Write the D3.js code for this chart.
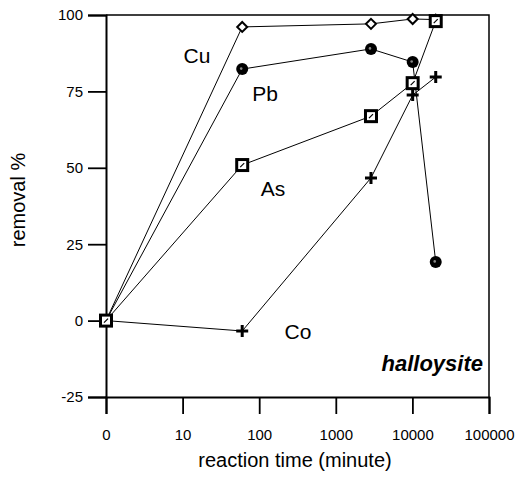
<!DOCTYPE html>
<html>
<head>
<meta charset="utf-8">
<script src="https://cdn.jsdelivr.net/npm/d3@7"></script>
<style>
  body { margin: 0; background: #fff; }
  svg { display: block; font-family: "Liberation Sans", Arial, sans-serif; }
</style>
</head>
<body>
<div id="chart"></div>
<script>
// reaction time in minutes (0 is drawn at the "0" position = 1 on the log axis)
const times = [0, 60, 2880, 10080, 20160];
const cuVals = [0, 96.1, 97.1, 98.7, 98.5];
const pbVals = [0, 82.3, 88.9, 84.6, 19.2];
const asVals = [0, 50.9, 66.9, 77.7, 98.0];
const coVals = [0, -3.4, 46.7, 73.8, 79.7];

const xTicks = [1, 10, 100, 1000, 10000, 100000];
const xTickLabels = ["0", "10", "100", "1000", "10000", "100000"];
const yTicks = [-25, 0, 25, 50, 75, 100];

const width = 521, height = 477;
const margins = {top: 15, right: 32, bottom: 80, left: 106};
const font = "Liberation Sans, Arial, sans-serif";

const svg = d3.select("#chart").append("svg")
  .attr("width", width)
  .attr("height", height);

const xScale = d3.scaleLog()
  .domain([1, 100000])
  .range([margins.left, width - margins.right]);

const yScale = d3.scaleLinear()
  .domain([-25, 100])
  .range([height - margins.bottom, margins.top]);

const xOf = t => xScale(Math.max(t, 1));

// frame (top and right)
svg.append("path")
  .attr("d", `M${xScale(1)},${yScale(100)}H${xScale(100000)}V${yScale(-25)}`)
  .attr("fill", "none")
  .attr("stroke", "#000")
  .attr("stroke-width", 1.5);

// y axis
svg.append("g")
  .attr("transform", "translate(" + xScale(1) + ",0)")
  .call(d3.axisLeft(yScale).tickValues(yTicks).tickSize(18).tickPadding(5)
    .tickFormat(d => String(d)))
  .call(g => g.select(".domain").attr("stroke-width", 2))
  .call(g => g.selectAll(".tick line").attr("stroke-width", 1.8))
  .call(g => g.selectAll("text").attr("font-size", 15).attr("font-family", font));

// x axis
svg.append("g")
  .attr("transform", "translate(0," + yScale(-25) + ")")
  .call(d3.axisBottom(xScale).tickValues(xTicks)
    .tickFormat((d, i) => xTickLabels[i]).tickSize(17).tickPadding(15))
  .call(g => g.select(".domain").attr("stroke-width", 2))
  .call(g => g.selectAll(".tick line").attr("stroke-width", 1.8))
  .call(g => g.selectAll("text").attr("font-size", 15).attr("font-family", font));

// axis titles
svg.append("text")
  .attr("x", 295)
  .attr("y", 467)
  .attr("text-anchor", "middle")
  .attr("font-size", 20)
  .text("reaction time (minute)");

svg.append("text")
  .attr("transform", "translate(25,200) rotate(-90)")
  .attr("text-anchor", "middle")
  .attr("font-size", 20)
  .text("removal %");

const line = d3.line()
  .x(d => xOf(d[0]))
  .y(d => yScale(d[1]));

const series = [
  {name: "Co", vals: coVals, marker: "plus"},
  {name: "Pb", vals: pbVals, marker: "circle"},
  {name: "Cu", vals: cuVals, marker: "diamond"},
  {name: "As", vals: asVals, marker: "square"}
];

series.forEach(s => {
  const pts = times.map((t, i) => [t, s.vals[i]]);
  svg.append("path")
    .datum(pts)
    .attr("d", line)
    .attr("fill", "none")
    .attr("stroke", "#000")
    .attr("stroke-width", 1);
});

series.forEach(s => {
  const pts = times.map((t, i) => [t, s.vals[i]]);
  const g = svg.append("g").selectAll("g")
    .data(pts)
    .join("g")
    .attr("transform", d => "translate(" + xOf(d[0]) + "," + yScale(d[1]) + ")");

  if (s.marker === "circle") {
    g.append("circle").attr("r", 6).attr("fill", "#000");
    g.append("circle").attr("r", 1.3).attr("cx", -1).attr("cy", -0.5).attr("fill", "#888");
  } else if (s.marker === "square") {
    g.append("rect").attr("x", -5.5).attr("y", -5.5).attr("width", 11).attr("height", 11)
      .attr("fill", "#fff").attr("stroke", "#000").attr("stroke-width", 3);
    g.append("path").attr("d", "M-2,2L2,-2").attr("stroke", "#000").attr("stroke-width", 1.2);
  } else if (s.marker === "diamond") {
    g.append("path").attr("d", "M0,-5L5,0L0,5L-5,0Z")
      .attr("fill", "#fff").attr("stroke", "#000").attr("stroke-width", 2);
  } else {
    g.append("path").attr("d", "M-6,0H6M0,-6V6")
      .attr("stroke", "#000").attr("stroke-width", 3);
  }
});

// series labels
const labels = [
  {text: "Cu", x: 197, y: 63},
  {text: "Pb", x: 265, y: 101},
  {text: "As", x: 273, y: 196},
  {text: "Co", x: 298, y: 339}
];
svg.append("g").selectAll("text")
  .data(labels)
  .join("text")
  .attr("x", d => d.x)
  .attr("y", d => d.y)
  .attr("text-anchor", "middle")
  .attr("font-size", 21)
  .text(d => d.text);

svg.append("text")
  .attr("x", 483)
  .attr("y", 371)
  .attr("text-anchor", "end")
  .attr("font-size", 22)
  .attr("font-weight", "bold")
  .attr("font-style", "italic")
  .text("halloysite");
</script>
</body>
</html>
